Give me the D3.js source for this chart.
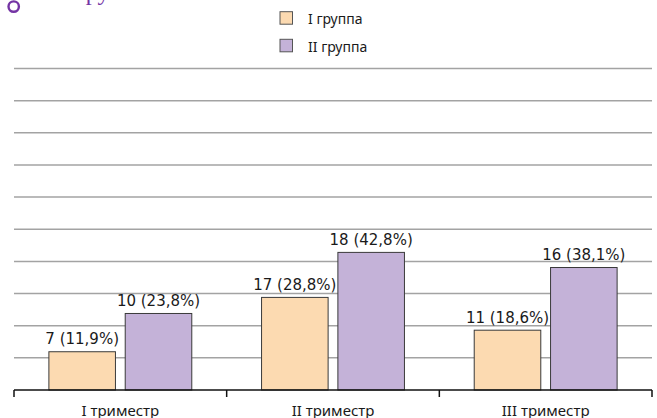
<!DOCTYPE html>
<html><head><meta charset="utf-8">
<script src="https://cdn.jsdelivr.net/npm/d3@7"></script>
<style>html,body{margin:0;padding:0;background:#fff;overflow:hidden}</style>
</head><body><svg id="c" width="657" height="418"></svg>
<script>
const categories = ["I триместр", "II триместр", "III триместр"];
const seriesNames = ["I группа", "II группа"];
const group1Counts = [7, 17, 11];
const group1Pct = [11.9, 28.8, 18.6];
const group2Counts = [10, 18, 16];
const group2Pct = [23.8, 42.8, 38.1];
const gridTicks = [10, 20, 30, 40, 50, 60, 70, 80, 90, 100];
const colors = ["#fcdab1", "#c4b2d8"];

const svg = d3.select("#c");
const plotLeft = 14, plotRight = 652, plotBase = 390, plotTop = 68.5;
const x = d3.scaleBand().domain(categories).range([plotLeft, plotRight]).padding(0);
const xs = d3.scaleBand().domain([0, 1]).range([0, x.bandwidth()]).paddingInner(0.128).paddingOuter(0.457);
const y = d3.scaleLinear().domain([0, 100]).range([plotBase, plotTop]);

// title fragment (cut off at top)
svg.append("circle").attr("cx", 13.7).attr("cy", 6.6).attr("r", 5.2)
  .attr("fill", "none").attr("stroke", "#7434a4").attr("stroke-width", 2.4);
svg.append("text").attr("x", 76).attr("y", 0).attr("fill", "#7434a4")
  .attr("font-family", "Liberation Serif").attr("font-size", 24).text("группа");

// grid
svg.append("g").selectAll("line").data(gridTicks).join("line")
  .attr("x1", plotLeft).attr("x2", plotRight).attr("y1", d => y(d)).attr("y2", d => y(d))
  .attr("stroke", "#a3a3a3").attr("stroke-width", 1.5);

const rows = categories.map((c, i) => ({c, vals: [
  {s: 0, n: group1Counts[i], p: group1Pct[i]},
  {s: 1, n: group2Counts[i], p: group2Pct[i]}]}));

const g = svg.append("g").selectAll("g").data(rows).join("g")
  .attr("transform", d => `translate(${x(d.c)},0)`);
g.selectAll("rect").data(d => d.vals).join("rect")
  .attr("x", d => xs(d.s)).attr("width", xs.bandwidth())
  .attr("y", d => y(d.p)).attr("height", d => plotBase - y(d.p))
  .attr("fill", d => colors[d.s]).attr("stroke", "#3a3a3a").attr("stroke-width", 1);
g.selectAll("text").data(d => d.vals).join("text")
  .attr("x", d => xs(d.s) + xs.bandwidth() / 2)
  .attr("y", d => y(d.p) - 7.5)
  .attr("text-anchor", "middle").attr("font-family", "DejaVu Sans").attr("font-size", 15)
  .attr("fill", "#1a1a1a")
  .text(d => `${d.n} (${String(d.p).replace(".", ",")}%)`);

// axis
const ax = svg.append("g").attr("transform", `translate(0,${plotBase})`)
  .call(d3.axisBottom(x).tickSize(0).tickPadding(0));
ax.select(".domain").attr("stroke", "#111").attr("stroke-width", 1.5).attr("d", `M${plotLeft},0H${plotRight}`);
ax.selectAll(".tick text").attr("y", 26).attr("dy", 0)
  .attr("font-family", "Noto Sans").attr("font-size", 15).attr("fill", "#1a1a1a");
const bounds = categories.map(c => x(c)).concat([plotRight]);
svg.append("g").selectAll("line").data(bounds).join("line")
  .attr("x1", d => d).attr("x2", d => d).attr("y1", plotBase).attr("y2", plotBase + 7)
  .attr("stroke", "#111").attr("stroke-width", 1.5);

// legend
const lg = svg.append("g").selectAll("g").data(seriesNames).join("g")
  .attr("transform", (d, i) => `translate(280,${11.7 + i * 27.6})`);
lg.append("rect").attr("width", 12.5).attr("height", 12.5)
  .attr("fill", (d, i) => colors[i]).attr("stroke", "#555").attr("stroke-width", 1);
lg.append("text").attr("x", 28).attr("y", 12.5)
  .attr("font-family", "Noto Sans").attr("font-size", 14).attr("fill", "#1a1a1a").text(d => d);
</script></body></html>
